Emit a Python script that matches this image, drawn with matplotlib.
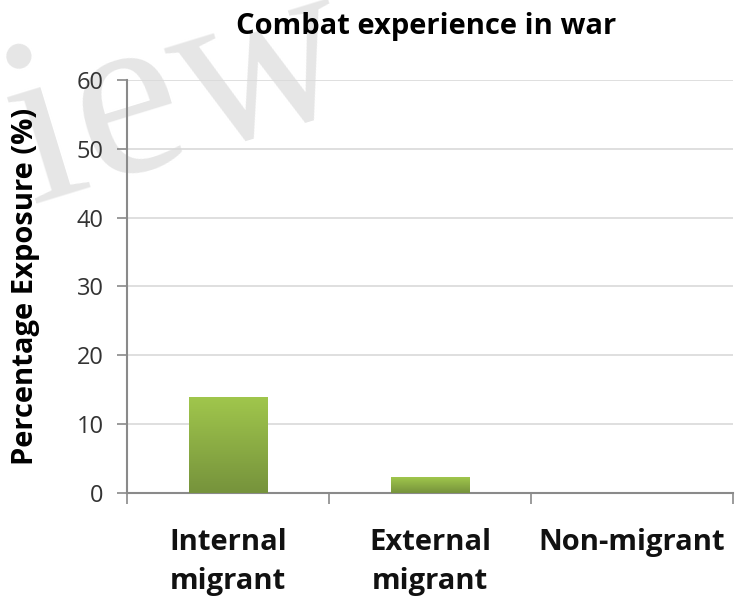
import numpy as np
import matplotlib
matplotlib.use("Agg")
import matplotlib.pyplot as plt
from matplotlib.colors import LinearSegmentedColormap

# data
categories = ["Internal\nmigrant", "External\nmigrant", "Non-migrant"]
exposure = [13.9, 2.3, 0.0]
y_ticks = [0, 10, 20, 30, 40, 50, 60]

plt.rcParams['font.family'] = ['Open Sans', 'DejaVu Sans']

fig = plt.figure(figsize=(7.39, 6.05), dpi=100)
ax = fig.add_axes([0.172, 0.185, 0.82, 0.683])
ax.set_zorder(2)
ax.set_facecolor("none")

# watermark (behind the axes)
fig.text(0.042, 0.665, "iew", family=["Liberation Serif", "DejaVu Serif"], fontsize=172,
         color="#e6e6e6", rotation=17, rotation_mode="anchor", ha="left",
         va="baseline", zorder=0)

x = np.arange(len(categories))
bars = ax.bar(x, exposure, width=0.39, color="#8db043", zorder=3)

# green gradient inside each bar
grad = LinearSegmentedColormap.from_list("g", ["#76933c", "#a0c64c"])
for b in bars:
    if b.get_height() <= 0:
        continue
    x0, w, h = b.get_x(), b.get_width(), b.get_height()
    im = ax.imshow(np.linspace(0, 1, 100).reshape(-1, 1), cmap=grad, origin="lower",
                   extent=[x0, x0 + w, 0, h], aspect="auto", zorder=4)
    im.set_clip_path(b)

ax.set_xlim(-0.5, 2.5)
ax.set_ylim(0, 60)
ax.set_yticks(y_ticks)
ax.yaxis.grid(True, color="#d9d9d9", linewidth=1.2, zorder=0)
ax.set_axisbelow(True)

ax.set_xticks([-0.5, 0.5, 1.5, 2.5])
ax.set_xticklabels([])
ax.set_xticks(x, minor=True)
ax.set_xticklabels(categories, minor=True, fontsize=21, fontweight="bold",
                   color="#111111", linespacing=1.45)
ax.tick_params(axis="x", which="minor", length=0, pad=25)
ax.tick_params(axis="x", which="major", length=8, width=1.2, color="#8a8a8a", direction="out")
ax.tick_params(axis="y", length=7, width=1.2, color="#8a8a8a", labelsize=17,
               labelcolor="#333333", pad=10)

for s in ["top", "right"]:
    ax.spines[s].set_visible(False)
for s in ["left", "bottom"]:
    ax.spines[s].set_color("#8a8a8a")
    ax.spines[s].set_linewidth(1.5)

ax.set_ylabel("Percentage Exposure (%)", fontsize=21, fontweight="bold", labelpad=26)
fig.text(0.577, 0.957, "Combat experience in war", fontsize=21, fontweight="bold",
         ha="center", va="center")

fig.savefig("out.png", dpi=100)
